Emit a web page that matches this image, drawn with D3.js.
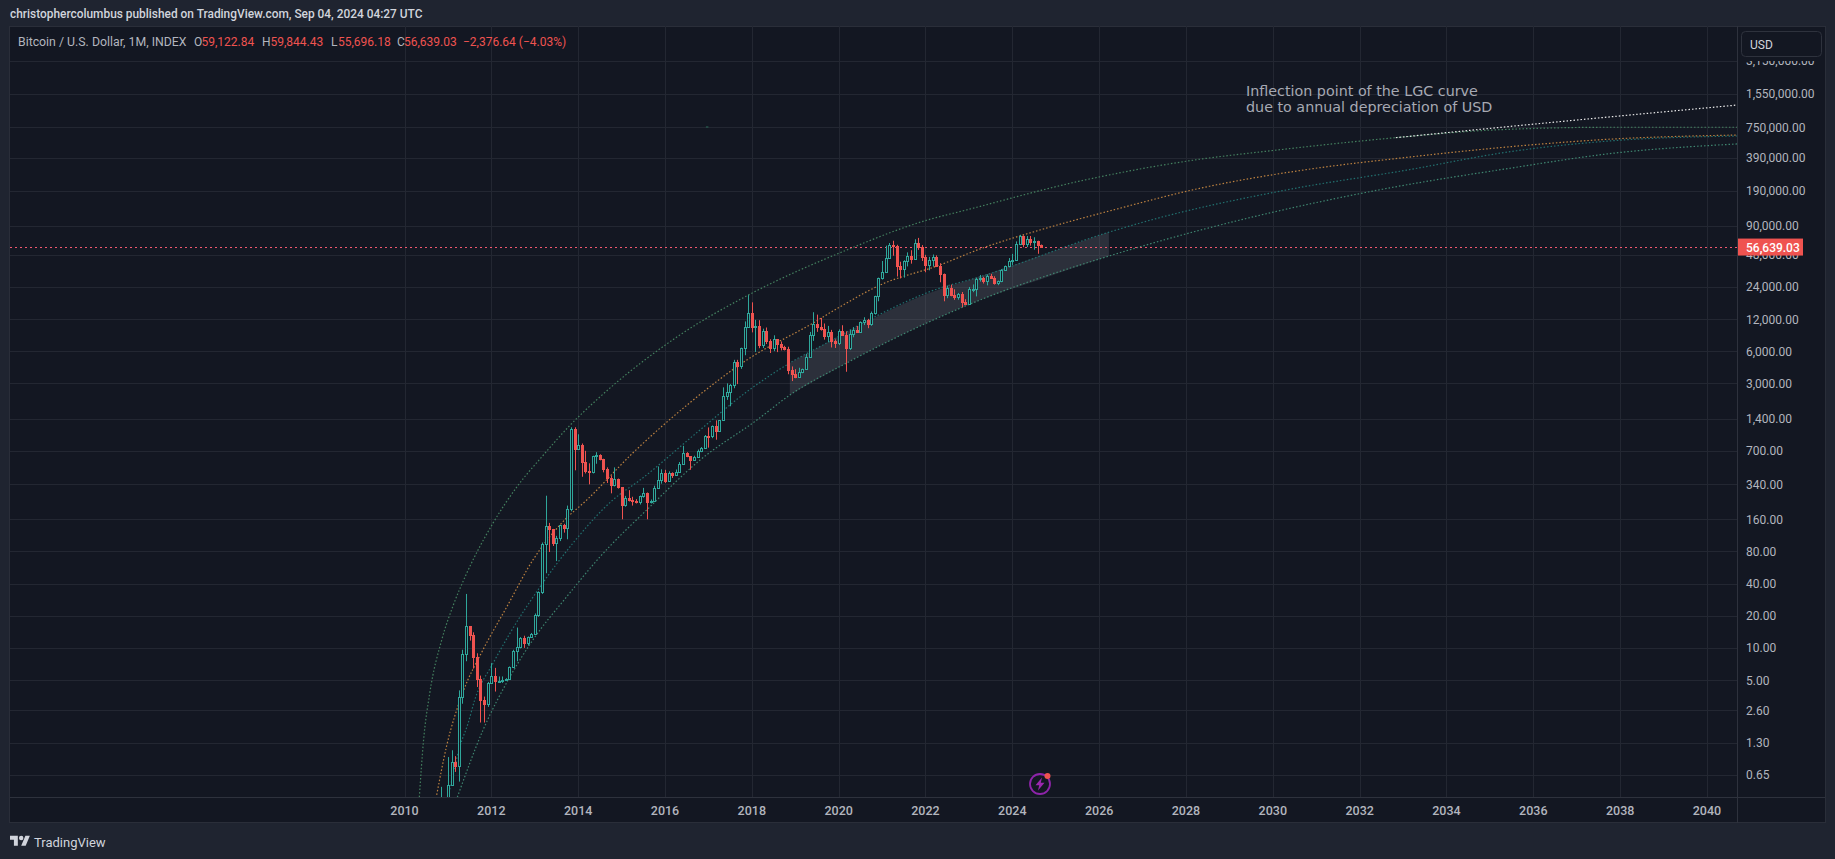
<!DOCTYPE html>
<html><head><meta charset="utf-8">
<script src="https://cdn.jsdelivr.net/npm/d3@7"></script>
<style>html,body{margin:0;padding:0;background:#1f2430;overflow:hidden}svg{display:block}text{font-family:Roboto,"Liberation Sans",sans-serif}</style>
</head><body><svg id="c" width="1835" height="859"></svg>
<script>
// Monthly candles, first month = Nov 2010 (month index counted from Jan 2010)
const firstMonth = 10;
const opens = [
 .2,.21,
 .3,.52,.86,.78,3.5,8.7,15.9,13.3,8.2,5.14,3.25,2.97,
 4.72,5.48,4.87,4.93,4.97,5.14,6.69,9.35,10.16,12.4,11.2,12.6,
 13.45,20.4,33.4,93,139,129,97,106,141,133,198,1130,
 732,800,550,457,448,628,641,585,478,387,338,378,
 320,217,254,244,236,230,263,285,230,236,314,377,
 430,368,437,416,448,531,673,624,574,608,702,745,
 966,965,1190,1080,1350,2300,2480,2875,4730,4340,6450,10000,
 13800,10100,10300,6920,9240,7480,6400,7730,7020,6600,6350,4040,
 3700,3440,3820,4100,5260,8560,10800,10100,9600,8300,9150,7550,
 7200,9350,8550,6430,8620,9450,9140,11350,11650,10780,13800,19700,
 29000,33100,45200,58800,57700,37300,35040,41500,47100,43800,61300,57000,
 46200,38500,43200,45500,37630,31800,19950,23300,20050,19400,20500,17150,
 16550,23100,23150,28500,29250,27200,30470,29230,25940,26960,34650,37720,
 42280,42580,61130,71280,60670,67530,62700,64630,59122.84];
const highs = [
 .5,.3,
 .95,1.1,.97,4.0,9.6,32,15.7,14,8.9,5.5,3.5,4.8,
 7.2,6.5,5.4,5.4,5.2,6.7,9.6,15.5,12.6,13,12.8,13.8,
 21,33.8,97,266,148,130,112,142,145,215,1163,1163,
 1000,820,700,535,630,680,650,590,490,410,490,385,
 320,265,300,260,247,267,315,285,245,330,500,470,
 465,450,440,468,550,780,680,625,630,720,760,985,
 1160,1210,1350,1360,2750,3000,2950,4980,4980,6470,11400,20100,
 17200,11800,11700,9750,10000,7770,8450,7750,7400,6740,6600,4320,
 4070,4200,4120,5650,9090,13900,13200,12300,10900,10350,9500,7750,
 9600,10500,9200,9500,10080,10350,11400,12470,12050,14100,19850,29300,
 41950,58350,61800,64900,59500,41300,42600,50500,52900,67000,69000,59100,
 47900,45800,48200,47400,40000,32000,24700,25200,22800,21050,21500,18400,
 23950,25300,29200,31000,29800,31400,31800,30200,27500,35200,38000,44700,
 48900,64000,73800,72700,71900,71900,70000,65000,59844.43];
const lows = [
 .19,.18,
 .3,.52,.69,.56,3.0,7.5,11.7,6.4,4.3,2.0,2.0,2.8,
 4.7,3.9,4.7,4.7,4.9,5.1,6.5,7.5,9.9,10,10.5,12.5,
 13.3,19.5,32,50,79,90,65,100,120,104,190,460,
 730,400,430,340,430,530,570,440,350,280,325,310,
 160,210,235,215,225,220,255,160,225,235,310,345,
 350,365,390,415,435,520,610,465,570,605,680,740,
 750,920,890,1065,1340,2100,1830,2700,2950,4100,5500,10400,
 9000,5900,6400,6430,7000,5770,6000,5880,6100,6100,3650,3150,
 3350,3390,3730,4100,5350,7500,9100,9350,7700,7300,6500,6430,
 6850,8450,3850,6150,8100,8900,8980,10540,9850,10370,13200,17600,
 28100,32400,45000,47000,30000,28800,29300,37300,39600,43200,53300,42000,
 32900,34300,37200,37600,26500,17600,18800,19600,18150,18200,15500,16250,
 16500,21400,19550,26900,25800,24800,28900,25200,24900,26550,34100,37600,
 38500,41900,59000,56500,56600,58400,53500,49000,55696.18];
const closes = [
 .21,.3,
 .52,.86,.78,3.5,8.7,15.9,13.3,8.2,5.14,3.25,2.97,4.72,
 5.48,4.87,4.93,4.97,5.14,6.69,9.35,10.16,12.4,11.2,12.6,13.45,
 20.4,33.4,93,139,129,97,106,141,133,198,1130,732,
 800,550,457,448,628,641,585,478,387,338,378,320,
 217,254,244,236,230,263,285,230,236,314,377,430,
 368,437,416,448,531,673,624,574,608,702,745,966,
 965,1190,1080,1350,2300,2480,2875,4730,4340,6450,10000,13800,
 10100,10300,6920,9240,7480,6400,7730,7020,6600,6350,4040,3700,
 3440,3820,4100,5260,8560,10800,10100,9600,8300,9150,7550,7200,
 9350,8550,6430,8620,9450,9140,11350,11650,10780,13800,19700,29000,
 33100,45200,58800,57700,37300,35040,41500,47100,43800,61300,57000,46200,
 38500,43200,45500,37630,31800,19950,23300,20050,19400,20500,17150,16550,
 23100,23150,28500,29250,27200,30470,29230,25940,26960,34650,37720,42280,
 42580,61130,71280,60670,67530,62700,64630,59015.67,56639.03];

// Growth curves: [month index, price]
const curveTopGreen = [[4.1,.4],[5.2,1.29],[7,3.8],[10.3,11.9],[13.5,25.2],[17.2,50],[24.5,148],[31.1,323],[38.4,640],[45.8,1220],[53.1,2100],[76.1,8500],[95,20100],[122.2,53100],[144.3,101000],[155.3,126000],[186.7,235000],[219.8,376000],[239,450000],[274,599000],[300.6,706000],[334,750000],[368.3,750000]];
const curveOrange = [[8.9,.42],[11.6,1.19],[16.1,3.8],[21.7,9.6],[28.3,24.3],[35.5,66.6],[43.8,152],[50.4,243],[63.1,668],[78.1,1880],[94.6,4960],[112.9,11000],[120.2,15500],[131.5,25000],[148,38500],[159.1,54400],[175.6,81800],[195.9,126000],[219.8,201000],[248.4,298000],[277.1,392000],[305.6,493000],[334,582000],[368.3,634000]];
const curveTeal = [[11.9,.377],[15.3,1.19],[17.6,1.98],[19.4,3.25],[24.5,7.2],[29.2,13.8],[37.5,37.4],[46.6,96],[57.6,243],[65.1,373],[81.7,1100],[94.6,2500],[106.5,4650],[116.7,7160],[129.4,12300],[148,23400],[157.1,28500],[194.2,77100],[203.3,95100],[244.8,197000],[277.1,298000],[305.6,443000],[334,561000],[368.3,621000]];
const curveBottomGreen = [[14.6,.4],[21.7,1.7],[29.2,5.4],[35.5,11.9],[44.8,30],[54,71],[66.9,195],[81.7,574],[97.4,1360],[106.5,2330],[122.2,4650],[144.3,11000],[159.1,18100],[194.1,46000],[203.3,57000],[270.3,197000],[305.6,310000],[334,428000],[368.3,523000]];
const curveWhite = [[274,599000],[314.6,817000],[368.3,1210000]];
const bandMonths = [106.5,122.2,144.3,159.1,175.3,194.7];
const bandTop = [4650,9040,20600,30000,46400,78200];
const bandBottom = [2330,4650,11000,18100,27900,46600];

const priceTicks = [3150000,1550000,750000,390000,190000,90000,48000,24000,12000,6000,3000,1400,700,340,160,80,40,20,10,5,2.6,1.3,.65];
const yearTicks = [2010,2012,2014,2016,2018,2020,2022,2024,2026,2028,2030,2032,2034,2036,2038,2040];
const lastPrice = 56639.03;
const headerText = "christophercolumbus published on TradingView.com, Sep 04, 2024 04:27 UTC";
const symbolText = "Bitcoin / U.S. Dollar, 1M, INDEX";
const ohlcLetters = ["O","H","L","C"];
const ohlcValues = ["59,122.84","59,844.43","55,696.18","56,639.03"];
const changeText = "\u22122,376.64 (\u22124.03%)";
const noteLines = ["Inflection point of the LGC curve","due to annual depreciation of USD"];

const W=1835,H=859;
const plot={l:10,r:1737,t:26,b:797};
const x=d3.scaleLinear().domain([-109.04,368.3]).range([plot.l,plot.r]);
const y=d3.scaleLog().domain([.4016,6653000]).range([plot.b,plot.t]);
const svg=d3.select("#c");
const BG="#131722",GRID="#232732",AX="#2e323d",LBL="#b2b5be",UP="#2fa79b",DN="#ef5350";

svg.append("rect").attr("width",W).attr("height",H).attr("fill","#1f2430");
svg.append("rect").attr("x",9.5).attr("y",26.5).attr("width",1816).attr("height",796).attr("fill",BG).attr("stroke","#2a2e39");
svg.append("text").attr("x",10).attr("y",18).attr("fill","#d1d4dc").attr("font-size",11.9).attr("font-weight",500).text(headerText);

const defs=svg.append("defs");
defs.append("clipPath").attr("id","pc").append("rect").attr("x",plot.l).attr("y",plot.t).attr("width",plot.r-plot.l).attr("height",plot.b-plot.t);

// grid
const g=svg.append("g").attr("clip-path","url(#pc)");
g.selectAll(".h").data(priceTicks).join("line").attr("x1",plot.l).attr("x2",plot.r)
 .attr("y1",d=>Math.round(y(d))+.5).attr("y2",d=>Math.round(y(d))+.5).attr("stroke",GRID);
g.selectAll(".v").data(yearTicks).join("line").attr("y1",plot.t).attr("y2",plot.b)
 .attr("x1",d=>Math.round(x((d-2010)*12))+.5).attr("x2",d=>Math.round(x((d-2010)*12))+.5).attr("stroke",GRID);

// band
const band=d3.area().x((d,i)=>x(d)).y0((d,i)=>y(bandBottom[i])).y1((d,i)=>y(bandTop[i])).curve(d3.curveMonotoneX);
g.append("path").attr("d",band(bandMonths)).attr("fill","#787b86").attr("fill-opacity",.25);

// curves
const line=d3.line().x(d=>x(d[0])).y(d=>y(d[1])).curve(d3.curveMonotoneX);
[[curveTopGreen,"#44805f"],[curveOrange,"#bd8240"],[curveTeal,"#22706f"],[curveBottomGreen,"#3f8670"],[curveWhite,"#ececec"]].forEach(([c,col])=>{
 g.append("path").attr("d",line(c)).attr("fill","none").attr("stroke",col).attr("stroke-width",1.2).attr("stroke-dasharray","1.5 2");
});
g.append("line").attr("x1",x(83.3)).attr("x2",x(84)).attr("y1",y(754000)).attr("y2",y(754000)).attr("stroke","#2b6b5a");

// price line
g.append("line").attr("x1",plot.l).attr("x2",plot.r).attr("y1",Math.round(y(lastPrice))+.5).attr("y2",Math.round(y(lastPrice))+.5)
 .attr("stroke","#f0566f").attr("stroke-dasharray","2 3");

// candles
const candles=closes.map((c,i)=>({m:firstMonth+i,o:opens[i],h:highs[i],l:lows[i],c}));
const cg=g.selectAll(".c").data(candles).join("g");
const cx=d=>Math.round(x(d.m))+.5;
cg.append("line").attr("x1",cx).attr("x2",cx).attr("y1",d=>y(d.h)).attr("y2",d=>y(d.l)).attr("stroke",d=>d.c>=d.o?UP:DN);
cg.append("rect").attr("x",d=>cx(d)-1).attr("width",2)
 .attr("y",d=>Math.round(y(Math.max(d.o,d.c)))+.5)
 .attr("height",d=>Math.max(1,Math.round(y(Math.min(d.o,d.c)))-Math.round(y(Math.max(d.o,d.c)))))
 .attr("fill",d=>d.c>=d.o?BG:DN).attr("stroke",d=>d.c>=d.o?UP:DN);

// axes lines
svg.append("line").attr("x1",plot.r+.5).attr("x2",plot.r+.5).attr("y1",plot.t).attr("y2",823).attr("stroke",AX);
svg.append("line").attr("x1",plot.l).attr("x2",1825).attr("y1",plot.b+.5).attr("y2",plot.b+.5).attr("stroke",AX);

// y labels
svg.selectAll(".yl").data(priceTicks).join("text").attr("x",1746).attr("y",d=>y(d)+4.5).attr("fill",LBL).attr("font-size",12)
 .text(d=>d3.format(",.2f")(d));
// x labels
svg.selectAll(".xl").data(yearTicks).join("text").attr("x",d=>x((d-2010)*12)).attr("y",814.5).attr("text-anchor","middle")
 .attr("fill",LBL).attr("font-size",12.5).attr("font-weight",500).text(d=>d);

// USD box with the mask that hides the top of the highest price label
svg.append("rect").attr("x",1738).attr("y",27).attr("width",87).attr("height",34).attr("fill",BG);
svg.append("rect").attr("x",1741.5).attr("y",31.5).attr("width",80).attr("height",25).attr("rx",4).attr("fill",BG).attr("stroke","#2e323d");
svg.append("text").attr("x",1750).attr("y",49).attr("fill","#d1d4dc").attr("font-size",12).text("USD");

// last price tag
svg.append("rect").attr("x",plot.r+1).attr("y",y(lastPrice)-8.5).attr("width",65).attr("height",17).attr("fill",DN);
svg.append("text").attr("x",1746).attr("y",y(lastPrice)+4.5).attr("fill","#fff").attr("font-size",12).attr("font-weight",500).text(d3.format(",.2f")(lastPrice));

// legend
svg.append("text").attr("x",18).attr("y",45.5).attr("fill",LBL).attr("font-size",12.3).text(symbolText);
const lx=[194,262,331,397], vx=[201.5,270.5,338,404];
ohlcLetters.forEach((l,i)=>{
 svg.append("text").attr("x",lx[i]).attr("y",45.5).attr("fill",LBL).attr("font-size",12).text(l);
 svg.append("text").attr("x",vx[i]).attr("y",45.5).attr("fill",DN).attr("font-size",12).text(ohlcValues[i]);
});
svg.append("text").attr("x",463).attr("y",45.5).attr("fill",DN).attr("font-size",12).text(changeText);

// note
noteLines.forEach((t,i)=>svg.append("text").attr("x",1246).attr("y",95.5+i*16).attr("fill","#a6a9b3").attr("font-size",14.3)
 .style("font-family","'DejaVu Sans'").text(t));

// icon
const ic=svg.append("g").attr("transform","translate(1040,784)");
ic.append("circle").attr("r",10).attr("fill","none").attr("stroke","#8e24aa").attr("stroke-width",1.8);
ic.append("path").attr("d","M2,-6.5 L-4.5,1.2 L-0.8,1.2 L-2,6.5 L4.5,-1.2 L0.8,-1.2 Z").attr("fill","#9c27b0");
ic.append("circle").attr("cx",7.5).attr("cy",-8).attr("r",3).attr("fill",DN);

// logo
svg.append("path").attr("transform","translate(10,833.5) scale(.56)").attr("fill","#d1d4dc")
 .attr("d","M14 22H7V11H0V4h14v18zM28 22h-8l7.5-18h8L28 22z M20 12a4 4 0 1 0 0-8 4 4 0 0 0 0 8z");
svg.append("text").attr("x",34).attr("y",846.5).attr("fill","#d1d4dc").attr("font-size",13).text("TradingView");
</script></body></html>
